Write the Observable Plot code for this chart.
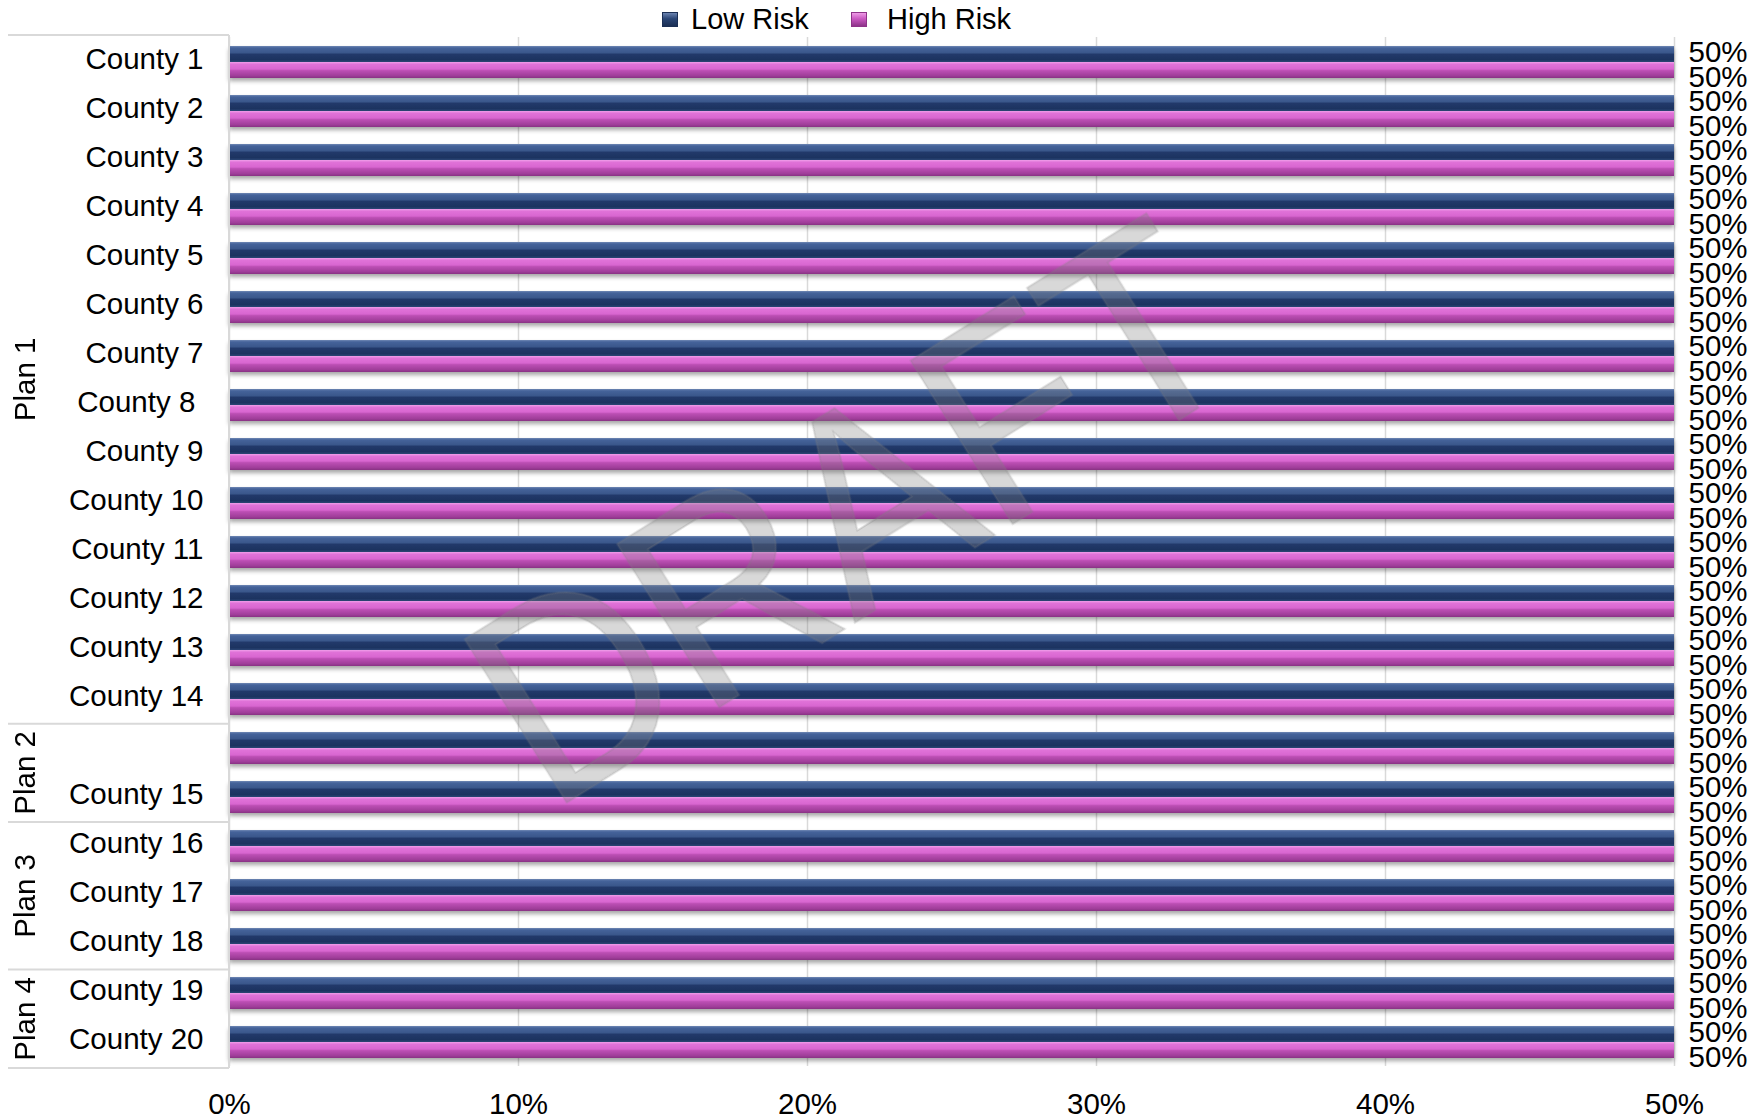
<!DOCTYPE html>
<html><head><meta charset="utf-8">
<script src="https://cdn.jsdelivr.net/npm/d3@7"></script>
<script src="https://cdn.jsdelivr.net/npm/@observablehq/plot@0.6"></script>
<style>
body{margin:0;background:#fff;font-family:"Liberation Sans",Arial,sans-serif;}
#legend{position:relative;height:34px;width:1759px;}
.sw{position:absolute;top:12px;width:16px;height:15px;}
.lt{position:absolute;top:5px;font-size:29px;line-height:29px;color:#000;white-space:nowrap;}
g[aria-label="bar"]{filter:drop-shadow(0px 3px 2px rgba(0,0,0,0.35));}
</style></head><body>
<div id="legend"></div>
<div id="chart"></div>
<script>
// ---- data ----
const categories = ["County 1","County 2","County 3","County 4","County 5","County 6","County 7","County 8\u00a0","County 9","County 10","County 11","County 12","County 13","County 14","","County 15","County 16","County 17","County 18","County 19","County 20"];
const plans = ["Plan 1","Plan 1","Plan 1","Plan 1","Plan 1","Plan 1","Plan 1","Plan 1","Plan 1","Plan 1","Plan 1","Plan 1","Plan 1","Plan 1","Plan 2","Plan 2","Plan 3","Plan 3","Plan 3","Plan 4","Plan 4"];
const lowRisk  = [0.5,0.5,0.5,0.5,0.5,0.5,0.5,0.5,0.5,0.5,0.5,0.5,0.5,0.5,0.5,0.5,0.5,0.5,0.5,0.5,0.5];
const highRisk = [0.5,0.5,0.5,0.5,0.5,0.5,0.5,0.5,0.5,0.5,0.5,0.5,0.5,0.5,0.5,0.5,0.5,0.5,0.5,0.5,0.5];
const series = ["Low Risk","High Risk"];
const xTicks = [0,0.1,0.2,0.3,0.4,0.5];

// ---- legend ----
const legend = document.getElementById("legend");
legend.innerHTML = `
<div class="sw" style="left:662px;background:linear-gradient(#6b83b0,#2a4575 45%,#1b2f55);border:1px solid #1b2f55;box-sizing:border-box"></div>
<div class="lt" style="left:691px">${series[0]}</div>
<div class="sw" style="left:851px;background:linear-gradient(#ee9ae6,#c958c1 45%,#8e3389);border:1px solid #8e3389;box-sizing:border-box"></div>
<div class="lt" style="left:887px">${series[1]}</div>`;

// ---- table ----
const data = [];
categories.forEach((c, i) => {
  data.push({row: i, series: series[0], value: lowRisk[i]});
  data.push({row: i, series: series[1], value: highRisk[i]});
});
const low = data.filter(d => d.series === series[0]);
const high = data.filter(d => d.series === series[1]);
const pct = d3.format(".0%");

const plot = Plot.plot({
  width: 1759, height: 1084,
  marginTop: 1, marginBottom: 50, marginLeft: 229, marginRight: 85,
  style: {fontSize: "29.5px", fontFamily: '"Liberation Sans", Arial, sans-serif', color: "#000", background: "#fff", overflow: "visible"},
  x: {domain: [0, 0.5], ticks: xTicks, tickFormat: pct, label: null, tickSize: 0, tickPadding: 27},
  y: {domain: series, paddingInner: 0, paddingOuter: 0.52, axis: null},
  fy: {domain: d3.range(categories.length), padding: 0, label: null, tickFormat: i => categories[i], tickSize: 0, tickPadding: 26},
  marks: [
    Plot.gridX(xTicks, {stroke: "#d9d9d9", strokeOpacity: 1, strokeWidth: 1.5}),
    Plot.barX(low, {x: "value", y: "series", fy: "row", fill: "url(#gLow)"}),
    Plot.barX(high, {x: "value", y: "series", fy: "row", fill: "url(#gHigh)"}),
    Plot.text(low, {x: "value", y: "series", fy: "row", text: d => pct(d.value), textAnchor: "start", dx: 14, dy: -2, fill: "#000"}),
    Plot.text(high, {x: "value", y: "series", fy: "row", text: d => pct(d.value), textAnchor: "start", dx: 14, dy: 7, fill: "#000"})
  ]
});

const svg = d3.select(plot);
const defs = svg.insert("defs", ":first-child");
function grad(id, stops) {
  const g = defs.append("linearGradient").attr("id", id).attr("x1", 0).attr("y1", 0).attr("x2", 0).attr("y2", 1);
  stops.forEach(([o, c]) => g.append("stop").attr("offset", o).attr("stop-color", c));
}
grad("gLow", [["0%", "#7088b4"], ["12%", "#45639a"], ["42%", "#3a578b"], ["52%", "#22396a"], ["85%", "#1c3360"], ["100%", "#2d4878"]]);
grad("gHigh", [["0%", "#f0a0ea"], ["14%", "#e072d8"], ["44%", "#d866d0"], ["54%", "#bc4fb4"], ["85%", "#a03e9a"], ["100%", "#883283"]]);

// nudge county labels up slightly
svg.selectAll('g[aria-label="fy-axis tick label"]').each(function() {
  const t = this.getAttribute("transform") || "";
  this.setAttribute("transform", (t + " translate(0,-2)").trim());
});

// plan groups via the fy scale
const fs = plot.scale("fy");
const fy = d3.scaleBand().domain(fs.domain).range(fs.range)
  .paddingInner(fs.paddingInner ?? 0).paddingOuter(fs.paddingOuter ?? 0).align(fs.align ?? 0.5);
const groups = [];
plans.forEach((p, i) => {
  if (!groups.length || groups[groups.length - 1].plan !== p) groups.push({plan: p, start: i, end: i});
  else groups[groups.length - 1].end = i;
});
const left = 229;
const gg = svg.append("g").attr("class", "plan-groups");
gg.append("line").attr("x1", left).attr("x2", left)
  .attr("y1", fy(0)).attr("y2", fy(categories.length - 1) + fy.bandwidth())
  .attr("stroke", "#d9d9d9").attr("stroke-width", 2);
const bounds = [fy(0), ...groups.map(g => fy(g.end) + fy.bandwidth())];
bounds.forEach(y => gg.append("line").attr("x1", 8).attr("x2", left).attr("y1", y).attr("y2", y)
  .attr("stroke", "#d9d9d9").attr("stroke-width", 2));
groups.forEach(g => {
  const yc = (fy(g.start) + fy(g.end) + fy.bandwidth()) / 2;
  gg.append("text").attr("transform", `translate(25,${yc}) rotate(-90)`)
    .attr("text-anchor", "middle").attr("dy", "0.35em").attr("font-size", 29.5).attr("fill", "#000")
    .text(g.plan);
});

// watermark
svg.append("text").attr("transform", "translate(848,474) rotate(-32)")
  .attr("text-anchor", "middle").attr("dy", "0.36em")
  .attr("font-size", 280).attr("textLength", 830).attr("lengthAdjust", "spacingAndGlyphs")
  .attr("fill", "#7f7f7f").attr("fill-opacity", 0.3)
  .attr("stroke", "#7f7f7f").attr("stroke-opacity", 0.25).attr("stroke-width", 2)
  .text("DRAFT");

document.getElementById("chart").appendChild(plot);
</script>
</body></html>
